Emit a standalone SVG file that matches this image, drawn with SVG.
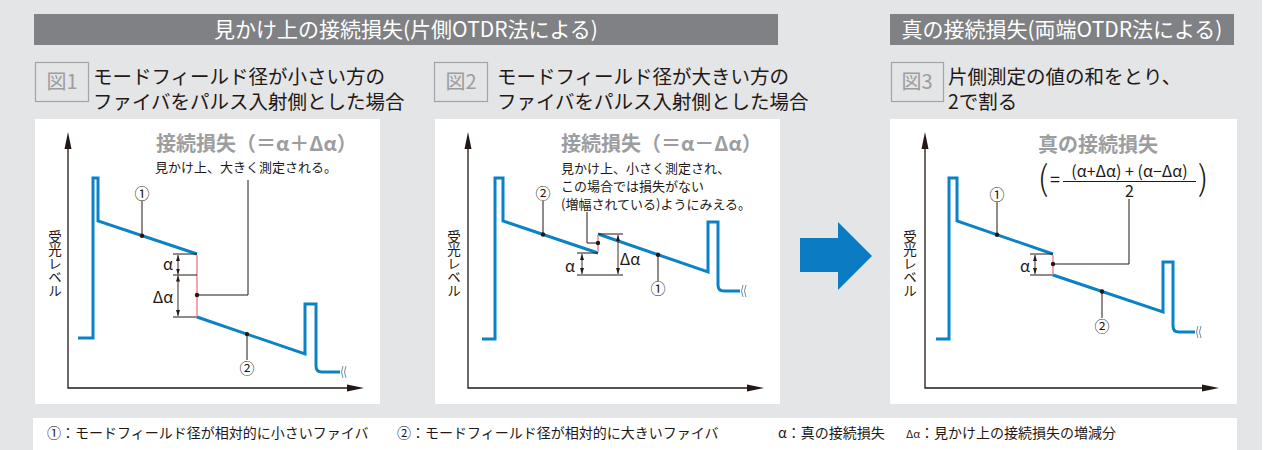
<svg xmlns="http://www.w3.org/2000/svg" width="1281" height="450" viewBox="0 0 1281 450">
<defs>
<style>
text{font-family:"Noto Sans CJK JP","Noto Sans",sans-serif;}
.hdr{fill:#ffffff;font-size:21px;text-anchor:middle;}
.bar{fill:#7f8184;}
.lbl{fill:none;stroke:#a3a4a6;stroke-width:1.2;}
.lbltx{fill:#9c9d9f;font-size:20px;text-anchor:middle;}
.cap{fill:#231815;font-size:19.5px;}
.panel{fill:#ffffff;}
.ttl{fill:#9c9d9f;font-size:20px;font-weight:bold;}
.note{fill:#231815;font-size:13px;}
.num{fill:#231815;font-size:15px;text-anchor:middle;}
.gr{fill:#231815;font-size:16px;text-anchor:middle;}
.vt{fill:#231815;font-size:13.5px;writing-mode:vertical-rl;}
.leg{fill:#231815;font-size:14px;}
.trace{fill:none;stroke:#0b82c6;stroke-width:3;stroke-linejoin:miter;}
.red{stroke:#f29098;stroke-width:1.6;}
.ln{fill:none;stroke:#231815;stroke-width:1;}
.axis{fill:none;stroke:#231815;stroke-width:1.3;}
.dim{fill:none;stroke:#231815;stroke-width:0.9;marker-start:url(#ah);marker-end:url(#ah);}
.dot{fill:#231815;}
.brk{fill:none;stroke:#6f8fa6;stroke-width:1;}
</style>
<marker id="ah" viewBox="0 0 6 4" refX="6" refY="2" markerWidth="6" markerHeight="4" markerUnits="userSpaceOnUse" orient="auto-start-reverse">
<path d="M0,0 L6,2 L0,4 z" fill="#231815"/>
</marker>
</defs>

<rect x="0" y="0" width="1281" height="450" fill="#e4e5e7"/>
<rect x="1262" y="0" width="19" height="450" fill="#ffffff"/>

<g id="header-apparent">
<rect class="bar" x="34" y="14" width="744" height="31"/>
<text class="hdr" x="406" y="37">見かけ上の接続損失(片側OTDR法による)</text>
</g>
<g id="header-true">
<rect class="bar" x="890" y="14" width="344" height="31"/>
<text class="hdr" x="1062" y="37">真の接続損失(両端OTDR法による)</text>
</g>

<g id="caption-1">
<rect class="lbl" x="35.5" y="62.5" width="53" height="39"/>
<text class="lbltx" x="62" y="89">図1</text>
<text class="cap" x="93" y="83.5">モードフィールド径が小さい方の</text>
<text class="cap" x="93" y="108.5">ファイバをパルス入射側とした場合</text>
</g>
<g id="caption-2">
<rect class="lbl" x="434.5" y="62.5" width="53" height="39"/>
<text class="lbltx" x="461" y="89">図2</text>
<text class="cap" x="497" y="83.5">モードフィールド径が大きい方の</text>
<text class="cap" x="497" y="108.5">ファイバをパルス入射側とした場合</text>
</g>
<g id="caption-3">
<rect class="lbl" x="891.5" y="62.5" width="52" height="39"/>
<text class="lbltx" x="917" y="89">図3</text>
<text class="cap" x="948" y="83.5">片側測定の値の和をとり、</text>
<text class="cap" x="948" y="108.5">2で割る</text>
</g>

<g id="panel-1">
<rect class="panel" x="35" y="119" width="345" height="285"/>
<path class="axis" d="M68,140 V388 H356"/>
<polygon points="68,132 64.5,149 71.5,149" fill="#231815"/>
<polygon points="364,388 347,384.5 347,391.5" fill="#231815"/>
<text class="vt" x="55" y="230">受光レベル</text>
<path class="trace" d="M78,338 H93 V178 H98 V221 L197,254"/>
<path class="trace" d="M197,317 L305,354 V304 H316 V366 Q316,372 322,372 H340"/>
<line class="red" x1="197" y1="255" x2="197" y2="316"/>
<path class="brk" d="M343,366 q-3,6 0,12 M346,366 q-3,6 0,12"/>
<text class="ttl" x="156" y="151">接続損失（＝α＋Δα）</text>
<text class="note" x="155" y="172">見かけ上、大きく測定される。</text>
<text class="num" x="142" y="198.5">①</text>
<text class="num" x="247" y="373.5">②</text>
<text class="gr" x="168" y="270">α</text>
<text class="gr" x="163" y="303">Δα</text>
</g>

<g id="panel-2">
<rect class="panel" x="435" y="119" width="345" height="285"/>
<path class="axis" d="M468,140 V388 H756"/>
<polygon points="468,132 464.5,149 471.5,149" fill="#231815"/>
<polygon points="764,388 747,384.5 747,391.5" fill="#231815"/>
<text class="vt" x="454" y="230">受光レベル</text>
<path class="trace" d="M482,339 H495 V178 H503 V221 L598,253"/>
<path class="trace" d="M598,234 L708,272 V222 H718 V285 Q718,291 724,291 H740"/>
<line class="red" x1="598" y1="235" x2="598" y2="252"/>
<path class="brk" d="M743,285 q-3,6 0,12 M746,285 q-3,6 0,12"/>
<text class="ttl" x="561" y="151">接続損失（＝α－Δα）</text>
<text class="note" x="561" y="173">見かけ上、小さく測定され、</text>
<text class="note" x="561" y="191">この場合では損失がない</text>
<text class="note" x="561" y="209">(増幅されている)ようにみえる。</text>
<text class="num" x="543" y="198.5">②</text>
<text class="num" x="658" y="294">①</text>
<text class="gr" x="570" y="272">α</text>
<text class="gr" x="630" y="265">Δα</text>
</g>

<g id="transition-arrow">
<polygon points="800,238 838,238 838,222 872,256 838,290 838,272 800,272" fill="#0b7cc4"/>
</g>

<g id="panel-3">
<rect class="panel" x="890" y="119" width="347" height="285"/>
<path class="axis" d="M925,140 V388 H1211"/>
<polygon points="925,132 921.5,149 928.5,149" fill="#231815"/>
<polygon points="1219,388 1202,384.5 1202,391.5" fill="#231815"/>
<text class="vt" x="910" y="230">受光レベル</text>
<path class="trace" d="M936,339 H949 V178 H957 V221 L1053,254"/>
<path class="trace" d="M1053,275 L1163,312 V262 H1173 V326 Q1173,332 1179,332 H1195"/>
<line class="red" x1="1053" y1="255" x2="1053" y2="274"/>
<path class="brk" d="M1198,326 q-3,6 0,12 M1201,326 q-3,6 0,12"/>
<text class="ttl" x="1038" y="152">真の接続損失</text>
<text x="1043" y="190" style="font-size:34px;fill:#231815;text-anchor:middle;font-weight:300">(</text>
<text x="1055" y="186" style="font-size:18px;fill:#231815;text-anchor:middle">=</text>
<text x="1129.5" y="177" style="font-size:16px;fill:#231815;text-anchor:middle">(α+Δα) + (α−Δα)</text>
<line x1="1063" y1="181.5" x2="1196" y2="181.5" stroke="#231815" stroke-width="1"/>
<text x="1129.5" y="197" style="font-size:16px;fill:#231815;text-anchor:middle">2</text>
<text x="1203" y="190" style="font-size:34px;fill:#231815;text-anchor:middle;font-weight:300">)</text>
<text class="num" x="997" y="199.5">①</text>
<text class="num" x="1102" y="331.5">②</text>
<text class="gr" x="1025" y="272">α</text>
</g>

<g id="connectors">
<line class="ln" x1="142" y1="201" x2="142" y2="235.7"/>
<circle class="dot" cx="142" cy="235.7" r="2.2"/>
<line class="ln" x1="247" y1="334.1" x2="247" y2="360"/>
<circle class="dot" cx="247" cy="334.1" r="2.2"/>
<path class="ln" d="M197,295 H248 V180"/>
<circle class="dot" cx="197" cy="295" r="2.2"/>
<path class="ln" d="M173,254 H197 M173,275 H197 M173,317 H197"/>
<line class="dim" x1="178" y1="255" x2="178" y2="274.5"/>
<line class="dim" x1="178" y1="275.5" x2="178" y2="316"/>

<line class="ln" x1="543" y1="201" x2="543" y2="234.5"/>
<circle class="dot" cx="543" cy="234.5" r="2.2"/>
<line class="ln" x1="658" y1="254.7" x2="658" y2="281"/>
<circle class="dot" cx="658" cy="254.7" r="2.2"/>
<path class="ln" d="M598,243 H587 V212"/>
<circle class="dot" cx="598" cy="243" r="2.2"/>
<path class="ln" d="M577,253 H598 M577,275 H623 M598,234 H623"/>
<line class="dim" x1="582" y1="254" x2="582" y2="274"/>
<line class="dim" x1="618" y1="235" x2="618" y2="274"/>

<line class="ln" x1="997" y1="202" x2="997" y2="234.7"/>
<circle class="dot" cx="997" cy="234.7" r="2.2"/>
<line class="ln" x1="1102" y1="291.5" x2="1102" y2="318"/>
<circle class="dot" cx="1102" cy="291.5" r="2.2"/>
<path class="ln" d="M1053,264 H1129 V199"/>
<circle class="dot" cx="1053" cy="264" r="2.2"/>
<path class="ln" d="M1030,254 H1053 M1030,275 H1053"/>
<line class="dim" x1="1035" y1="255" x2="1035" y2="274"/>
</g>

<g id="legend">
<rect x="33" y="418" width="1204" height="32" fill="#ffffff"/>
<text class="leg" x="47" y="438">①：モードフィールド径が相対的に小さいファイバ</text>
<text class="leg" x="397" y="438">②：モードフィールド径が相対的に大きいファイバ</text>
<text class="leg" x="778" y="438">α：真の接続損失</text>
<text class="leg" x="906" y="438"><tspan style="font-size:11px">Δα</tspan>：見かけ上の接続損失の増減分</text>
</g>
</svg>
